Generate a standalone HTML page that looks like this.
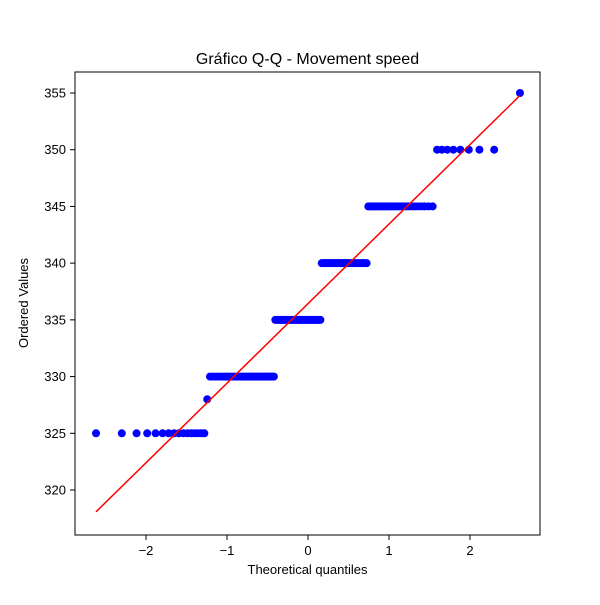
<!DOCTYPE html>
<html><head><meta charset="utf-8"><style>
body{margin:0;background:#fff}
svg text{font-family:"Liberation Sans","DejaVu Sans",sans-serif;fill:#000}
</style></head><body>
<svg id="chart" width="600" height="600" viewBox="0 0 600 600">
<rect width="600" height="600" fill="#fff"/>
<text x="307.5" y="64" font-size="16" text-anchor="middle">Gráfico Q-Q - Movement speed</text>
<g id="marks"></g>
<rect x="75" y="72" width="465" height="463" fill="none" stroke="#000" stroke-width="1"/>
<g id="xticks"></g><g id="yticks"></g>
<text x="307.5" y="574" font-size="13" text-anchor="middle">Theoretical quantiles</text>
<text x="0" y="0" font-size="13" text-anchor="middle" transform="translate(28,303) rotate(-90)">Ordered Values</text>
</svg>
<script>
const values = [325, 328, 330, 335, 340, 345, 350, 355];
const counts = [16, 1, 36, 35, 32, 27, 8, 1];
const xTicks = [-2, -1, 0, 1, 2];
const yTicks = [320, 325, 330, 335, 340, 345, 350, 355];

const NS = "http://www.w3.org/2000/svg";
const X0 = 308, XS = 81;
const Y0 = 93, YV0 = 355, YS = 11.343;
const sx = v => X0 + v * XS;
const sy = v => Y0 + (YV0 - v) * YS;

function ninv(p){
  const a=[-3.969683028665376e+01,2.209460984245205e+02,-2.759285104469687e+02,1.383577518672690e+02,-3.066479806614716e+01,2.506628277459239e+00];
  const b=[-5.447609879822406e+01,1.615858368580409e+02,-1.556989798598866e+02,6.680131188771972e+01,-1.328068155288572e+01];
  const c=[-7.784894002430293e-03,-3.223964580411365e-01,-2.400758277161838e+00,-2.549671625302493e+00,4.374664141464968e+00,2.938163982698783e+00];
  const d=[7.784695709041462e-03,3.224671290700398e-01,2.445134137142996e+00,3.754408661907416e+00];
  const pl=0.02425;let q,r;
  if(p<pl){q=Math.sqrt(-2*Math.log(p));return (((((c[0]*q+c[1])*q+c[2])*q+c[3])*q+c[4])*q+c[5])/((((d[0]*q+d[1])*q+d[2])*q+d[3])*q+1);}
  if(p>1-pl){q=Math.sqrt(-2*Math.log(1-p));return -(((((c[0]*q+c[1])*q+c[2])*q+c[3])*q+c[4])*q+c[5])/((((d[0]*q+d[1])*q+d[2])*q+d[3])*q+1);}
  q=p-0.5;r=q*q;return (((((a[0]*r+a[1])*r+a[2])*r+a[3])*r+a[4])*r+a[5])*q/(((((b[0]*r+b[1])*r+b[2])*r+b[3])*r+b[4])*r+1);
}

const data=[];
values.forEach((v,i)=>{for(let k=0;k<counts[i];k++)data.push(v);});
const n=data.length;
const qs=data.map((_,i)=>{
  const idx=i+1;let m;
  const mn=Math.pow(0.5,1/n);
  if(idx===n)m=mn;else if(idx===1)m=1-mn;else m=(idx-0.3175)/(n+0.365);
  return ninv(m);
});
let mx=0,my=0;qs.forEach((q,i)=>{mx+=q;my+=data[i];});mx/=n;my/=n;
let sxy=0,sxx=0;qs.forEach((q,i)=>{sxy+=(q-mx)*(data[i]-my);sxx+=(q-mx)*(q-mx);});
const slope=sxy/sxx, icpt=my-slope*mx;

const marks=document.getElementById('marks');
qs.forEach((q,i)=>{
  const c=document.createElementNS(NS,'circle');
  c.setAttribute('cx',sx(q));c.setAttribute('cy',sy(data[i]));c.setAttribute('r',4);c.setAttribute('fill','#0000ff');
  
  
  marks.appendChild(c);
});
const ln=document.createElementNS(NS,'line');
const qa=qs[0],qb=qs[n-1];
ln.setAttribute('x1',sx(qa));ln.setAttribute('y1',sy(icpt+slope*qa));
ln.setAttribute('x2',sx(qb));ln.setAttribute('y2',sy(icpt+slope*qb));
ln.setAttribute('stroke','#ff0000');ln.setAttribute('stroke-width','1.5');


marks.appendChild(ln);

const xg=document.getElementById('xticks');
xTicks.forEach(t=>{
  const l=document.createElementNS(NS,'line');
  l.setAttribute('x1',sx(t));l.setAttribute('x2',sx(t));l.setAttribute('y1',535);l.setAttribute('y2',540);l.setAttribute('stroke','#000');
  
  
  xg.appendChild(l);
  const tx=document.createElementNS(NS,'text');
  tx.setAttribute('x',sx(t));tx.setAttribute('y',555);tx.setAttribute('font-size','13');tx.setAttribute('text-anchor','middle');
  tx.textContent=t<0?'\u2212'+Math.abs(t):String(t);
  
  
  xg.appendChild(tx);
});
const yg=document.getElementById('yticks');
yTicks.forEach(t=>{
  const l=document.createElementNS(NS,'line');
  l.setAttribute('x1',70);l.setAttribute('x2',75);l.setAttribute('y1',sy(t));l.setAttribute('y2',sy(t));l.setAttribute('stroke','#000');
  
  
  yg.appendChild(l);
  const tx=document.createElementNS(NS,'text');
  tx.setAttribute('x',66);tx.setAttribute('y',sy(t)+4.5);tx.setAttribute('font-size','13');tx.setAttribute('text-anchor','end');
  tx.textContent=String(t);
  
  
  yg.appendChild(tx);
});
</script>
</body></html>
